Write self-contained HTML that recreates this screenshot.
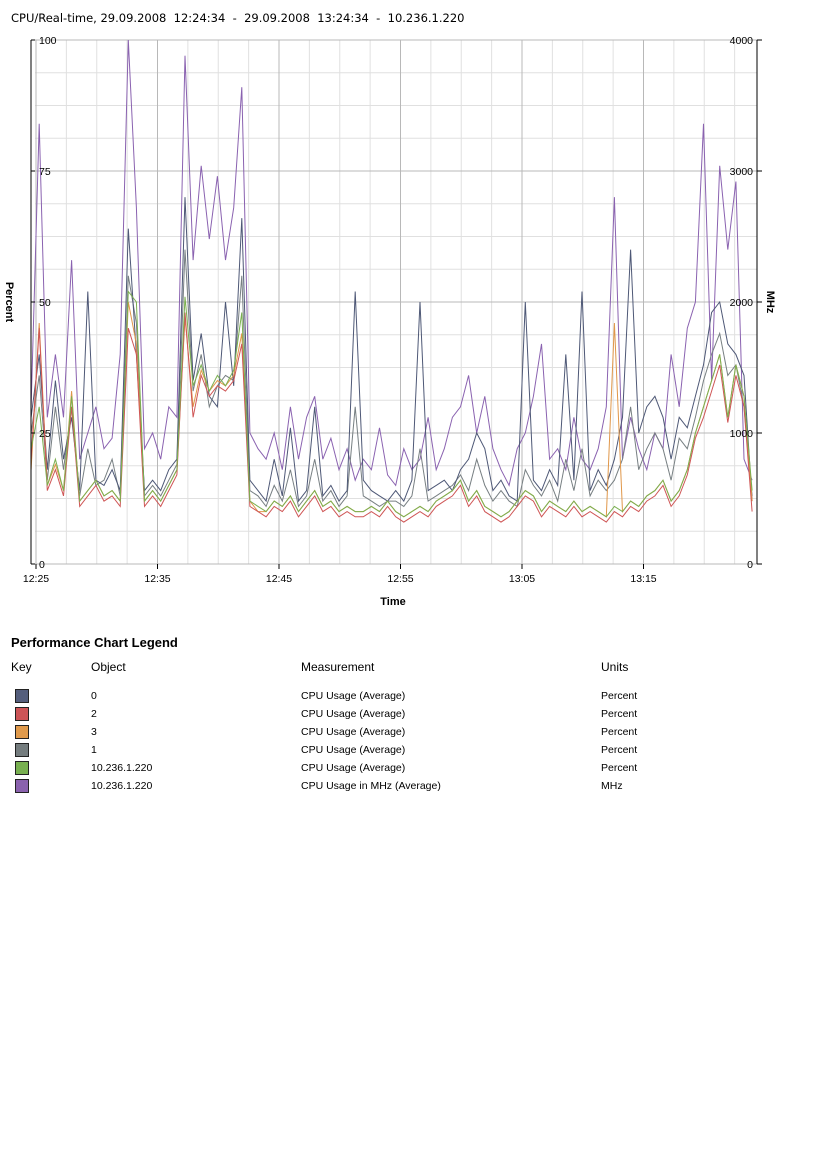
<!DOCTYPE html>
<html><head><meta charset="utf-8"><style>
body{margin:0;background:#fff;width:827px;height:1169px;overflow:hidden;font-family:"Liberation Sans",sans-serif}
svg text{font-family:"Liberation Sans",sans-serif}
svg text.title{font-family:"DejaVu Sans","Liberation Sans",sans-serif;white-space:pre}
</style></head><body>
<svg id="chart" width="827" height="1169" xmlns="http://www.w3.org/2000/svg">
<text class="title" x="11" y="22" font-size="11.5" fill="#000" xml:space="preserve">CPU/Real-time, 29.09.2008  12:24:34  -  29.09.2008  13:24:34  -  10.236.1.220</text>
<g id="grid"></g>
<g id="series"></g>
<g id="axes"></g>
<text transform="translate(6,302) rotate(90)" font-size="11" font-weight="bold" text-anchor="middle">Percent</text>
<text transform="translate(767,302) rotate(90)" font-size="11" font-weight="bold" text-anchor="middle">MHz</text>
<text x="393" y="605" font-size="11" font-weight="bold" text-anchor="middle">Time</text>
<text x="11" y="647" font-size="13" font-weight="bold">Performance Chart Legend</text>
<g font-size="12">
<text x="11" y="671">Key</text><text x="91" y="671">Object</text><text x="301" y="671">Measurement</text><text x="601" y="671">Units</text>
</g>
<g id="legend" font-size="10.5"></g>
</svg>
<script>
const timeTicks=["12:25","12:35","12:45","12:55","13:05","13:15"];
const leftTicks=[0,25,50,75,100];
const rightTicks=[0,1000,2000,3000,4000];
const s0=[28,40,18,35,20,28,14,52,16,15,18,14,64,40,14,16,14,18,20,70,35,44,32,30,50,34,66,16,14,12,20,13,26,12,14,30,13,15,12,14,52,16,14,13,12,14,12,16,50,14,15,16,14,18,20,25,22,14,16,13,12,50,16,14,18,15,40,16,52,14,18,15,20,28,60,25,30,32,28,20,28,26,32,38,48,50,42,40,36,12];
const s2=[20,45,14,18,13,30,11,13,15,12,13,11,45,40,11,13,11,14,17,48,28,36,32,34,33,35,42,11,10,9,11,10,12,9,11,13,10,11,9,10,9,9,10,9,11,9,8,9,10,9,11,12,13,15,11,13,10,9,8,9,11,13,12,9,11,10,9,11,9,10,9,8,10,9,11,10,12,13,15,11,13,17,24,28,33,38,27,36,30,10];
const s3=[18,46,15,19,14,33,12,14,16,13,14,12,50,42,12,14,12,15,18,47,30,37,33,35,34,36,44,12,10,10,12,11,13,10,12,14,11,12,10,11,10,10,11,10,12,10,9,10,11,10,12,13,14,16,12,14,11,10,9,10,12,14,13,10,12,11,10,12,10,11,10,9,46,10,12,11,13,14,16,12,14,18,25,30,35,40,28,38,32,12];
const s1=[25,36,16,30,18,30,13,22,15,16,20,13,55,46,13,15,13,16,19,60,33,40,30,34,36,35,55,14,13,11,15,12,18,11,13,20,12,14,11,13,30,13,12,11,12,12,11,13,22,12,13,14,15,17,14,20,15,12,14,12,11,18,15,13,16,12,20,14,22,13,16,14,16,20,30,18,22,25,22,16,24,22,28,35,40,44,36,38,30,13];
const sG=[22,30,15,20,14,32,12,14,16,13,14,12,52,50,12,14,12,15,18,51,34,38,33,36,34,37,48,12,11,10,12,11,13,10,12,14,11,12,10,11,10,10,11,10,12,10,9,10,11,10,12,13,14,16,12,14,11,10,9,10,12,14,13,10,12,11,10,12,10,11,10,9,11,10,12,11,13,14,16,12,14,18,25,30,35,40,28,38,32,14];
const sMHz=[1200,3360,1120,1600,1120,2320,800,1000,1200,880,960,1600,4000,2720,880,1000,800,1200,1120,3880,2320,3040,2480,2960,2320,2720,3640,1000,880,800,1000,720,1200,800,1120,1280,800,960,720,880,640,800,720,1040,680,600,880,720,800,1120,720,880,1120,1200,1440,1000,1280,880,720,600,880,1000,1280,1680,800,880,720,1120,800,720,880,1200,2800,800,1120,880,720,1000,880,1600,1200,1800,2000,3360,1400,3040,2400,2920,800,640];
const X0=36,PX=12.15,T0=-0.4,DT=0.6667,YB=564,PH=524;
const xT=m=>X0+m*PX;
const yL=v=>YB-v/100*PH;
const yR=v=>YB-v/4000*PH;
const NS="http://www.w3.org/2000/svg";
function mk(t,a,p){const e=document.createElementNS(NS,t);for(const k in a)e.setAttribute(k,a[k]);p.appendChild(e);return e;}
const grid=document.getElementById('grid'),axes=document.getElementById('axes'),ser=document.getElementById('series');
for(let k=1;k<16;k++){if(k%4==0)continue;const y=yL(k*6.25);const l=mk('line',{x1:35,x2:757,y1:y,y2:y,stroke:'#e0e0e0'},grid);

}
for(let k=0;k<=24;k++){const x=xT(k*2.5);if(x>757)break;const l=mk('line',{x1:x,x2:x,y1:40,y2:564,stroke:k%4==0?'#b8b8b8':'#e0e0e0'},grid);

}
leftTicks.forEach((v,i)=>{const y=yL(v);const l=mk('line',{x1:35,x2:757,y1:y,y2:y,stroke:'#b8b8b8'},grid);


mk('line',{x1:31,x2:35,y1:y,y2:y,stroke:'#000'},axes);
const t=mk('text',{x:39,y:y+4,'font-size':'10.5'},axes);t.textContent=v;

});
rightTicks.forEach(v=>{const y=yR(v);mk('line',{x1:757,x2:762,y1:y,y2:y,stroke:'#000'},axes);
const t=mk('text',{x:753,y:y+4,'font-size':'10.5','text-anchor':'end'},axes);t.textContent=v;

});
timeTicks.forEach((s,i)=>{const x=xT(i*10);mk('line',{x1:x,x2:x,y1:564,y2:569,stroke:'#000'},axes);
const t=mk('text',{x:x,y:582,'font-size':'10.5','text-anchor':'middle'},axes);t.textContent=s;

});
mk('line',{x1:31,x2:31,y1:40,y2:564,stroke:'#000'},axes);
mk('line',{x1:31,x2:35,y1:564,y2:564,stroke:'#000'},axes);
mk('line',{x1:757,x2:757,y1:40,y2:564,stroke:'#000'},axes);
function line(arr,fy,col,name){const pts=arr.map((v,i)=>xT(T0+i*DT).toFixed(1)+','+fy(v).toFixed(1)).join(' ');
const p=mk('polyline',{points:pts,fill:'none',stroke:col,'stroke-width':1},ser);

}
line(sMHz,yR,'#8a62b0','series-host-mhz');
line(s1,yL,'#777f82','series-cpu-1');
line(s0,yL,'#4e5876','series-cpu-0');
line(s3,yL,'#e0974a','series-cpu-3');
line(s2,yL,'#cf5656','series-cpu-2');
line(sG,yL,'#7ab050','series-host-percent');
const leg=[['#545e7c','0','CPU Usage (Average)','Percent'],['#cc5457','2','CPU Usage (Average)','Percent'],['#e09a4c','3','CPU Usage (Average)','Percent'],['#747c7e','1','CPU Usage (Average)','Percent'],['#78b050','10.236.1.220','CPU Usage (Average)','Percent'],['#8a62ae','10.236.1.220','CPU Usage in MHz (Average)','MHz']];
const lg=document.getElementById('legend');
leg.forEach((r,i)=>{const y=695+i*18;
const sq=mk('rect',{x:15.5,y:y-5.5,width:13,height:13,fill:r[0],stroke:'#222'},lg);


[[91,r[1]],[301,r[2]],[601,r[3]]].forEach(c=>{const t=mk('text',{x:c[0],y:y+4},lg);t.textContent=c[1];

});});
</script>
</body></html>
